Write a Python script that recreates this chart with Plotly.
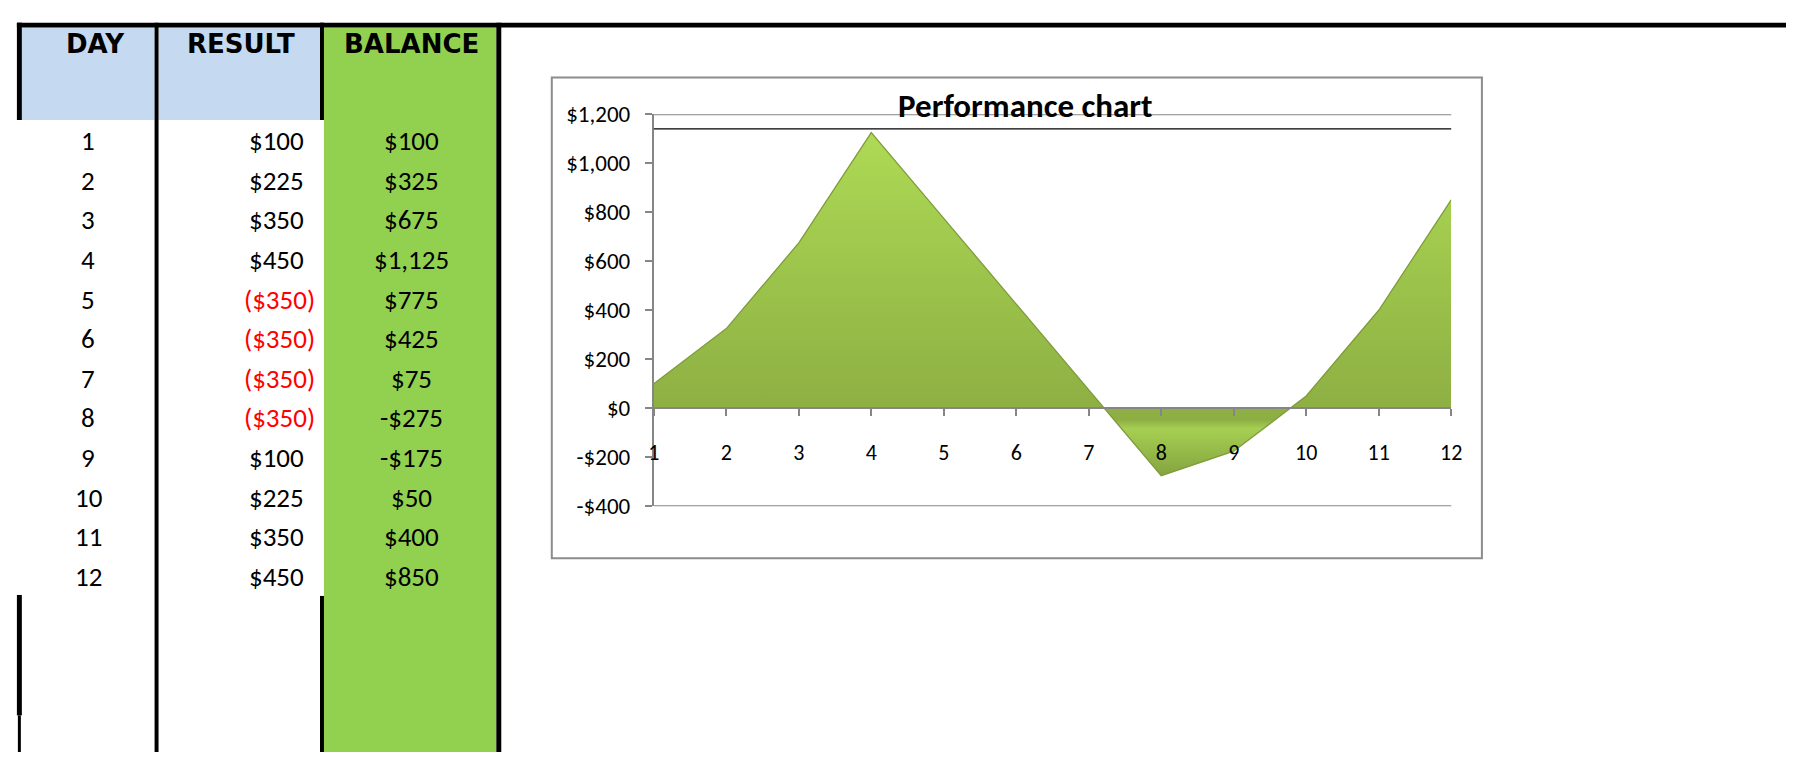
import plotly.graph_objects as go

# ---------------- data ----------------
days = [1, 2, 3, 4, 5, 6, 7, 8, 9, 10, 11, 12]
results = [100, 225, 350, 450, -350, -350, -350, -350, 100, 225, 350, 450]
balance = [100, 325, 675, 1125, 775, 425, 75, -275, -175, 50, 400, 850]
headers = ["DAY", "RESULT", "BALANCE"]
y_tick_vals = [-400, -200, 0, 200, 400, 600, 800, 1000, 1200]
y_tick_text = ["-$400", "-$200", "$0", "$200", "$400", "$600", "$800", "$1,000", "$1,200"]
chart_title = "Performance chart"
ref_line_value = 1140

# ---------------- geometry helpers ----------------
W, H = 1797, 766


def px(x):
    return x / W


def py(y):
    return 1 - y / H


def fmt_result(v):
    return f"${v:,}" if v >= 0 else f"(${-v:,})"


def fmt_balance(v):
    return f"${v:,}" if v >= 0 else f"-${-v:,}"


GRAY = "#868686"
BLUE = "#C5D9F1"
GREEN = "#92D050"
BODY_FONT = "Carlito, Calibri, Lato, sans-serif"
HEAD_FONT = "Comic Sans MS, DejaVu Sans, sans-serif"

# plot area (pixels)
PL, PR, PT, PB = 654, 1459, 104, 511
ydom = [py(PB), py(PT)]
yrange = [-400, 1200]
zero_pos = ydom[0] + (0 - yrange[0]) / (yrange[1] - yrange[0]) * (ydom[1] - ydom[0])

fig = go.Figure()

fig.add_trace(go.Scatter(
    x=days, y=balance, mode="lines", fill="tozeroy",
    line=dict(color="#7F9C3C", width=1.3),
    fillgradient=dict(
        type="vertical",
        start=min(balance), stop=max(balance),
        colorscale=[[0.0, "#7B973A"], [0.17, "#A6CF52"], [0.196, "#8DAE43"],
                    [0.6, "#9CC44B"], [1.0, "#AEDA55"]],
    ),
    hoverinfo="skip", showlegend=False,
))

shapes = []
annotations = []

# ---------------- spreadsheet table ----------------
def rect(x0, y0, x1, y1, color):
    shapes.append(dict(type="rect", xref="paper", yref="paper",
                       x0=px(x0), x1=px(x1), y0=py(y1), y1=py(y0),
                       fillcolor=color, line=dict(width=0), layer="below"))

rect(16, 14, 150, 110, BLUE)
rect(154, 14, 317, 110, BLUE)
rect(321, 14, 495, H, GREEN)

# borders
rect(11, 9, W, 14, "black")
rect(11, 9, 16, 110, "black")
rect(11, 603, 16, 728, "black")
rect(12, 728, 15, H, "black")
rect(150, 9, 154, H, "black")
rect(317, 9, 321, 110, "black")
rect(317, 604, 321, H, "black")
rect(495, 9, 500, H, "black")

head_x = [90, 237, 409]
for hx, htxt in zip(head_x, headers):
    annotations.append(dict(x=px(hx), y=py(31), xref="paper", yref="paper",
                            text=f"<b>{htxt}</b>", showarrow=False,
                            xanchor="center", yanchor="middle",
                            font=dict(family=HEAD_FONT, size=26, color="black")))

for i, (d, r, b) in enumerate(zip(days, results, balance)):
    yc = 131.5 + i * 41.1
    annotations.append(dict(x=px(83), y=py(yc), xref="paper", yref="paper",
                            text=str(d), showarrow=False, xanchor="center", yanchor="middle",
                            font=dict(family=BODY_FONT, size=27, color="black")))
    annotations.append(dict(x=px(303 if r >= 0 else 314), y=py(yc), xref="paper", yref="paper",
                            text=fmt_result(r), showarrow=False, xanchor="right", yanchor="middle",
                            font=dict(family=BODY_FONT, size=27,
                                      color="black" if r >= 0 else "#FF0000")))
    annotations.append(dict(x=px(409), y=py(yc), xref="paper", yref="paper",
                            text=fmt_balance(b), showarrow=False, xanchor="center", yanchor="middle",
                            font=dict(family=BODY_FONT, size=27, color="black")))

# ---------------- chart decorations ----------------
shapes.append(dict(type="rect", xref="paper", yref="paper",
                   x0=px(551), x1=px(1490), y0=py(565), y1=py(66),
                   line=dict(color="#8C8C8C", width=2), fillcolor="rgba(0,0,0,0)", layer="below"))
for yv in (yrange[1], yrange[0]):
    shapes.append(dict(type="line", xref="x domain", yref="y", x0=0, x1=1, y0=yv, y1=yv,
                       line=dict(color=GRAY, width=2), layer="below"))
shapes.append(dict(type="line", xref="x domain", yref="y", x0=0, x1=1,
                   y0=ref_line_value, y1=ref_line_value,
                   line=dict(color="black", width=1.2), layer="above"))

annotations.append(dict(x=px(1029), y=py(95), xref="paper", yref="paper",
                        text=f"<b>{chart_title}</b>", showarrow=False,
                        xanchor="center", yanchor="middle",
                        font=dict(family=BODY_FONT, size=33, color="black")))

fig.update_layout(
    width=W, height=H, autosize=False,
    margin=dict(l=0, r=0, t=0, b=0, pad=0),
    paper_bgcolor="white", plot_bgcolor="white",
    shapes=shapes, annotations=annotations, showlegend=False,
    xaxis=dict(domain=[px(PL), px(PR)], range=[days[0], days[-1]],
               tickmode="array", tickvals=days, ticktext=[str(d) for d in days],
               anchor="free", position=zero_pos, side="bottom",
               showline=True, linecolor=GRAY, linewidth=2,
               ticks="outside", ticklen=7, tickwidth=2, tickcolor=GRAY,
               showgrid=False, zeroline=False, ticklabelstandoff=17,
               tickfont=dict(family=BODY_FONT, size=22, color="black")),
    yaxis=dict(domain=ydom, range=yrange,
               tickmode="array", tickvals=y_tick_vals, ticktext=y_tick_text,
               showline=True, linecolor=GRAY, linewidth=2,
               ticks="outside", ticklen=7, tickwidth=2, tickcolor=GRAY,
               showgrid=False, zeroline=False, ticklabelstandoff=10,
               tickfont=dict(family=BODY_FONT, size=23, color="black")),
)

post = (
    "document.documentElement.style.margin='0';"
    "document.documentElement.style.padding='0';"
    "document.documentElement.style.overflow='hidden';"
    "document.body.style.margin='0';"
    "document.body.style.padding='0';"
    "document.body.style.overflow='hidden';"
    "var gd=document.getElementById('{plot_id}');"
    "gd.style.position='fixed';gd.style.left='0px';gd.style.top='0px';"
)
fig.write_html("out.html", config={"displayModeBar": False}, post_script=post)
